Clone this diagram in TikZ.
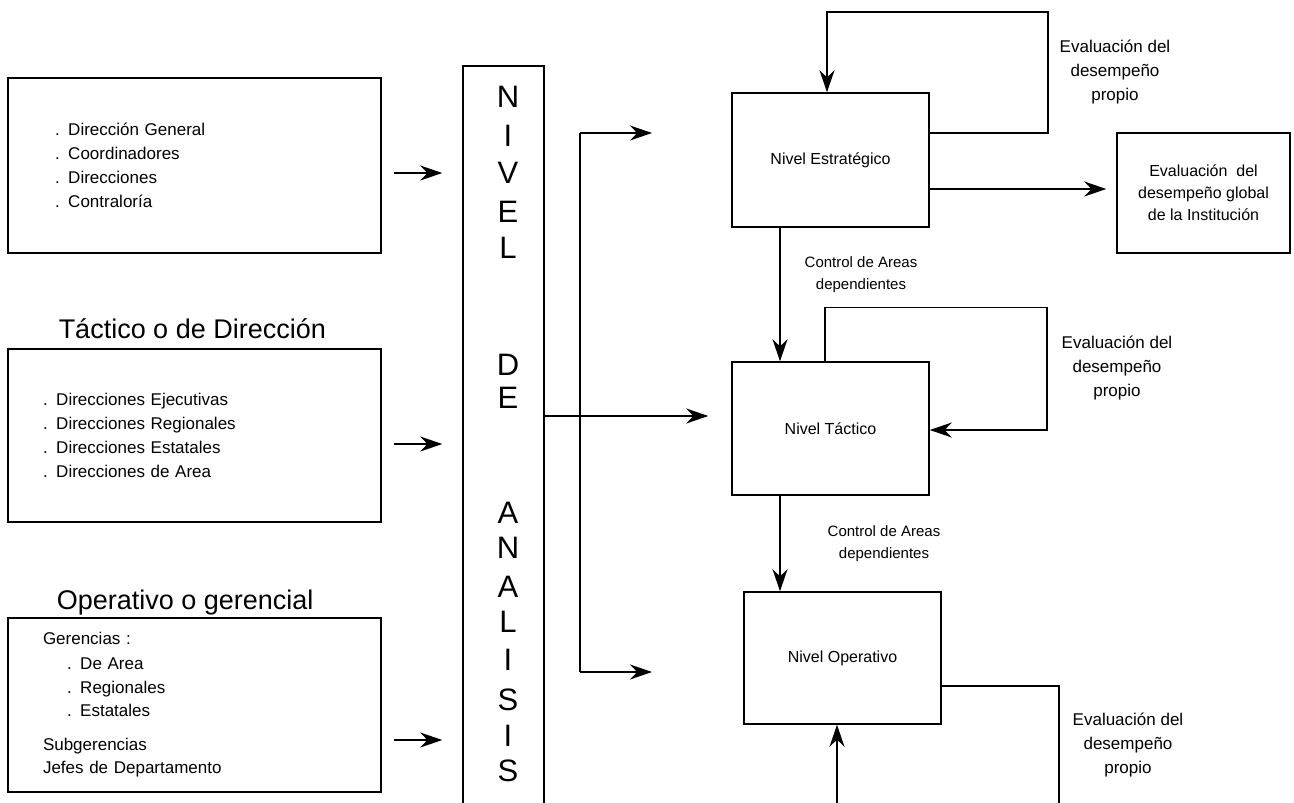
\documentclass[tikz,border=0pt]{standalone}
\usepackage{fontspec}
\setmainfont{Liberation Sans}
\usetikzlibrary{positioning,arrows.meta,calc}

\begin{document}
\begin{tikzpicture}[
        x=1pt, y=-1pt,
        line width=1.5pt,
        >={Stealth[length=22pt,width=15pt]},
        lvl/.style={
            rectangle,
            draw,
            line width=1.5pt,
            minimum width=373pt,
            align=left,
            font=\fontsize{17}{24}\selectfont
        },
        nivel/.style={
            rectangle,
            draw,
            line width=1.5pt,
            minimum width=197pt,
            align=center,
            font=\fontsize{16}{22}\selectfont
        },
        titulo/.style={anchor=base west, inner sep=0pt, font=\fontsize{27}{32}\selectfont},
        letra/.style={inner sep=0pt, font=\fontsize{31}{31}\selectfont},
        evalt/.style={align=center, font=\fontsize{17}{24}\selectfont},
        ctl/.style={align=center, font=\fontsize{15}{22}\selectfont},
        arr/.style={->},
    ]

        \useasboundingbox (0,0) rectangle (1294,803);
        \clip (0,0) rectangle (1294,803);

        % niveles de la institucion
        \node[lvl, minimum height=175pt, inner xsep=47pt, text width=279pt] (dir) at (194.5,165.5)
            {. Dirección General\\. Coordinadores\\. Direcciones\\. Contraloría};
        \node[titulo] (ttac) at (58,338) {Táctico o de Dirección};
        \node[lvl, minimum height=173pt, inner xsep=35pt, text width=303pt] (tacb) at (194.5,435.5)
            {. Direcciones Ejecutivas\\. Direcciones Regionales\\. Direcciones Estatales\\. Direcciones de Area};
        \node[titulo] (tope) at (56,609) {Operativo o gerencial};
        \node[lvl, minimum height=174pt, inner xsep=35pt, text width=303pt, font=\fontsize{17}{23}\selectfont] (opeb) at (194.5,705)
            {Gerencias :\\[2pt]\hspace*{24pt}. De Area\\[1pt]\hspace*{24pt}. Regionales\\\hspace*{24pt}. Estatales\\[11pt]Subgerencias\\Jefes de Departamento};

        \node[draw, line width=1.5pt, minimum width=81pt, minimum height=770pt, anchor=north] (bar) at (503.5,65) {};
        \foreach \y/\l in {97/N,136/I,173/V,212/E,248/L,365/D,398/E,513/A,548/N,587/A,622/L,660/I,700/S,736/I,771/S}{
            \node[letra] (l\y) at (508,\y) {\l};
        }

        \node[nivel, minimum height=134pt] (est) at (830.5,160) {Nivel Estratégico};
        \node[nivel, minimum height=133pt] (tac) at (830.5,428.5) {Nivel Táctico};
        \node[nivel, minimum height=132pt] (ope) at (842.5,658) {Nivel Operativo};
        \node[nivel, minimum width=173pt, minimum height=120pt] (glob) at (1203.5,193)
            {Evaluación~ del\\desempeño global\\de la Institución};

        \node[evalt] (ev1) at (1115,72) {Evaluación del\\desempeño\\propio};
        \node[evalt] (ev2) at (1117,368) {Evaluación del\\desempeño\\propio};
        \node[evalt] (ev3) at (1128,745) {Evaluación del\\desempeño\\propio};
        \node[ctl] (ctl1) at (861,275) {Control de Areas\\dependientes};
        \node[ctl] (ctl2) at (884,544) {Control de Areas\\dependientes};

        \coordinate (rama1) at (580,133);
        \coordinate (rama2) at (580,672);
        \coordinate (punta1) at (652,133);
        \coordinate (punta2) at (652,672);

        \draw[arr, shorten <=12pt, shorten >=20pt] ([yshift=-7.5pt]dir.east) -- ([yshift=-7.5pt]dir.east -| bar.west);
        \draw[arr, shorten <=12pt, shorten >=20pt] ([yshift=-8.5pt]tacb.east) -- ([yshift=-8.5pt]tacb.east -| bar.west);
        \draw[arr, shorten <=12pt, shorten >=20pt] ([yshift=-35pt]opeb.east) -- ([yshift=-35pt]opeb.east -| bar.west);

        \draw[arr, shorten >=23pt] ([yshift=12.5pt]tac.west -| bar.east) -- ([yshift=12.5pt]tac.west);
        \draw (rama1) -- (rama2);
        \draw[arr] (rama1) -- (punta1);
        \draw[arr] (rama2) -- (punta2);

        \draw[arr] ([yshift=27pt]est.east) -- ++(118,0) -- ++(0,-121) -| ([xshift=-3.5pt]est.north);
        \draw[arr, shorten >=10pt] ([yshift=-29pt]est.east) -- ([yshift=-29pt]est.east -| glob.west);
        \draw[arr] ([xshift=-50.5pt]est.south) -- ([xshift=-50.5pt]est.south |- tac.north);
        \draw[arr] ([xshift=-5.5pt]tac.north) -- ++(0,-54) -- ++(222,0) |- ([yshift=-1.5pt]tac.east);
        \draw[arr] ([xshift=-50.5pt]tac.south) -- ([xshift=-50.5pt]tac.south |- ope.north);
        \draw[arr] ([yshift=-28pt]ope.east) -- ++(117,0) -- ++(0,140) -| ([xshift=-5.5pt]ope.south);

    \end{tikzpicture}
\end{document}
